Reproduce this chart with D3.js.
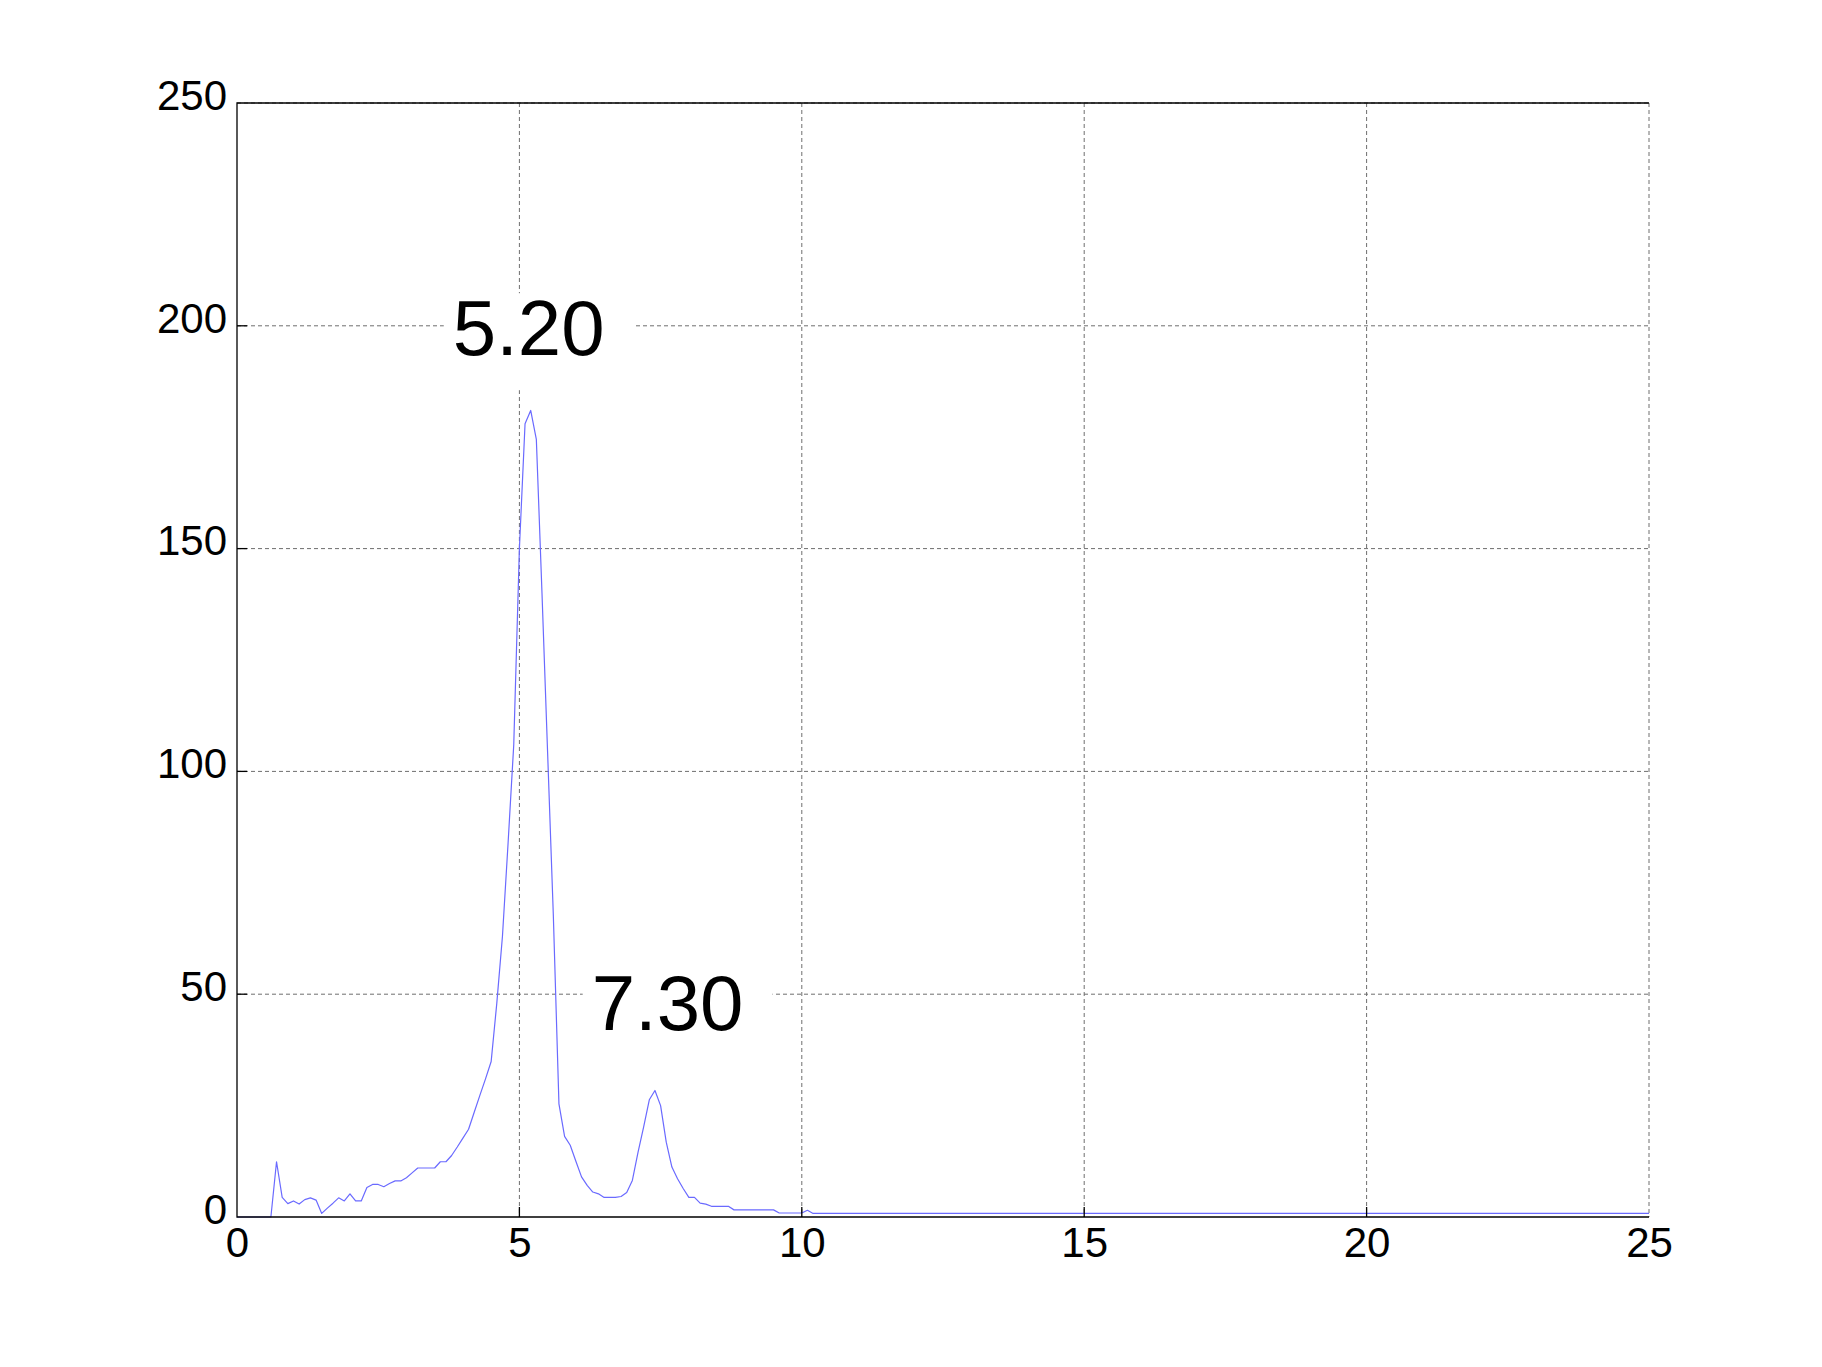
<meta charset="utf-8">
<style>
  body { margin: 0; background: #fff; }
  text { font-family: "Liberation Sans", Arial, sans-serif; fill: #000; }
  .grid line { stroke: #6e6e6e; stroke-width: 1; stroke-dasharray: 4,3; }
  .border { stroke: #000; stroke-width: 1.3; fill: none; }
  .tick-mark { stroke: #000; stroke-width: 1.3; }
  .trace { fill: none; stroke: #6a6aff; stroke-width: 1.2; stroke-linejoin: round; }
</style>
<body>
<script src="https://d3js.org/d3.v7.min.js"></script>
<script>

  // spectrum: frequency and amplitude
  const freq = [
    0.0, 0.1, 0.2, 0.3, 0.4, 0.5, 0.6, 0.7, 0.8, 0.9,
    1.0, 1.1, 1.2, 1.3, 1.4, 1.5, 1.6, 1.7, 1.8, 1.9,
    2.0, 2.1, 2.2, 2.3, 2.4, 2.5, 2.6, 2.7, 2.8, 2.9,
    3.0, 3.1, 3.2, 3.3, 3.4, 3.5, 3.6, 3.7, 3.8, 3.9,
    4.0, 4.1, 4.2, 4.3, 4.4, 4.5, 4.6, 4.7, 4.8, 4.9,
    5.0, 5.1, 5.2, 5.3, 5.4, 5.5, 5.6, 5.7, 5.8, 5.9,
    6.0, 6.1, 6.2, 6.3, 6.4, 6.5, 6.6, 6.7, 6.8, 6.9,
    7.0, 7.1, 7.2, 7.3, 7.4, 7.5, 7.6, 7.7, 7.8, 7.9,
    8.0, 8.1, 8.2, 8.3, 8.4, 8.5, 8.6, 8.7, 8.8, 8.9,
    9.0, 9.1, 9.2, 9.3, 9.4, 9.5, 9.6, 9.7, 9.8, 9.9,
    10.0, 10.1, 10.2, 25.0
  ];
  const amp = [
    0, 0, 0, 0, 0, 0, 0, 12.4, 4.4, 3.0,
    3.6, 2.9, 3.9, 4.3, 3.8, 0.8, 2.0, 3.1, 4.3, 3.6,
    5.2, 3.6, 3.6, 6.6, 7.3, 7.3, 6.8, 7.5, 8.1, 8.1,
    8.8, 9.9, 11.0, 11.0, 11.0, 11.0, 12.4, 12.4, 13.8, 15.7,
    17.7, 19.7, 23.5, 27.3, 31.0, 34.9, 48, 63, 84, 106,
    150, 178, 181, 174.5, 140, 104, 68, 25.4, 18.1, 16.1,
    12.5, 9.0, 7.1, 5.6, 5.2, 4.4, 4.4, 4.4, 4.6, 5.5,
    8.2, 14.5, 20.2, 26.3, 28.4, 25.0, 16.8, 11.2, 8.6, 6.4,
    4.4, 4.4, 3.1, 2.9, 2.4, 2.4, 2.4, 2.4, 1.6, 1.6,
    1.6, 1.6, 1.6, 1.6, 1.6, 1.6, 0.9, 0.9, 0.9, 0.9,
    0.9, 1.5, 0.8, 0.8
  ];

  const xTicks = [0, 5, 10, 15, 20, 25];
  const yTicks = [0, 50, 100, 150, 200, 250];

  // peak annotations (text, left edge and baseline in data units)
  const peakLabels = ["5.20", "7.30"];
  const peakLabelX = [3.82, 6.28];
  const peakLabelY = [193.4, 41.9];

  const W = 1822, H = 1367;
  const margin = { top: 103, right: 173, bottom: 150, left: 237 };
  const width = W - margin.left - margin.right;
  const height = H - margin.top - margin.bottom;

  const svg = d3.select("body")
    .append("svg")
    .attr("width", W)
    .attr("height", H);

  svg.append("rect").attr("width", W).attr("height", H).attr("fill", "#fff");

  const g = svg.append("g")
    .attr("transform", `translate(${margin.left}, ${margin.top})`);

  const x = d3.scaleLinear().domain([0, 25]).range([0, width]);
  const y = d3.scaleLinear().domain([0, 250]).range([height, 0]);

  // dashed grid
  g.append("g")
    .attr("class", "grid")
    .selectAll("line")
    .data(xTicks.slice(1))
    .join("line")
    .attr("x1", d => x(d)).attr("x2", d => x(d))
    .attr("y1", 0).attr("y2", height);

  g.append("g")
    .attr("class", "grid")
    .selectAll("line")
    .data(yTicks.slice(1))
    .join("line")
    .attr("x1", 0).attr("x2", width)
    .attr("y1", d => y(d)).attr("y2", d => y(d));

  // the trace
  const pts = freq.map((f, i) => [f, amp[i]]);
  const line = d3.line().x(d => x(d[0])).y(d => y(d[1]));
  g.append("path")
    .datum(pts)
    .attr("class", "trace")
    .attr("d", line);

  // peak labels on white boxes
  peakLabels.forEach((t, i) => {
    const lx = x(peakLabelX[i]), ly = y(peakLabelY[i]);
    const box = g.append("rect").attr("fill", "#fff");
    const txt = g.append("text")
      .attr("x", lx)
      .attr("y", ly)
      .style("font-size", "78px")
      .text(t);
    const w = txt.node().getComputedTextLength();
    box.attr("x", lx - 9)
      .attr("y", ly - 62)
      .attr("width", w + 38)
      .attr("height", 97);
  });

  // axes: left, bottom, top solid
  const xAxis = d3.axisBottom(x).tickValues(xTicks).tickSize(0).tickPadding(10)
    .tickFormat(d3.format("d"));
  const yAxis = d3.axisLeft(y).tickValues(yTicks).tickSize(0).tickPadding(10)
    .tickFormat(d3.format("d"));

  const gx = g.append("g").attr("transform", `translate(0, ${height})`).call(xAxis);
  const gy = g.append("g").call(yAxis);
  [gx, gy].forEach(a => {
    a.select(".domain").remove();
    a.selectAll("text")
      .style("font-size", "42px")
      .attr("font-family", null);
  });
  gx.selectAll("text").attr("dy", "0.72em");
  gy.selectAll("text").attr("dy", "0.15em");

  // inward tick marks
  g.append("g").selectAll("line")
    .data(xTicks.slice(1, -1))
    .join("line")
    .attr("class", "tick-mark")
    .attr("x1", d => x(d)).attr("x2", d => x(d))
    .attr("y1", height).attr("y2", height - 10);

  g.append("g").selectAll("line")
    .data(yTicks.slice(1, -1))
    .join("line")
    .attr("class", "tick-mark")
    .attr("x1", 0).attr("x2", 10)
    .attr("y1", d => y(d)).attr("y2", d => y(d));

  g.append("path")
    .attr("class", "border")
    .attr("d", `M${width},0H0V${height}H${width}`);

</script>
</body>
